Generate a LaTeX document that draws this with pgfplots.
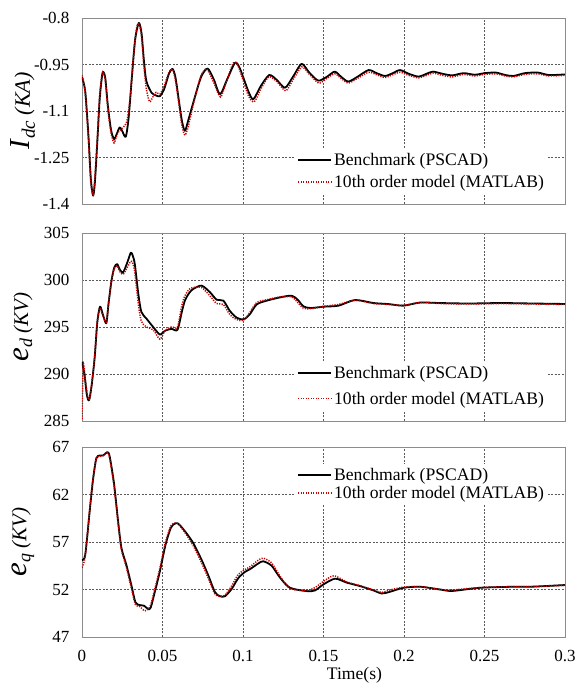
\documentclass[border=0pt]{standalone}
\usepackage{fontspec}
\setmainfont{Liberation Serif}
\usepackage{pgfplots}
\pgfplotsset{compat=1.18}
\definecolor{mred}{RGB}{200,0,0}
\pgfplotsset{
  panel/.style={
    scale only axis, width=483pt,
    xmin=0, xmax=0.3,
    xtick={0,0.05,0.1,0.15,0.2,0.25,0.3},
    grid=major,
    major grid style={dash pattern=on 2pt off 1.5pt, black!65, line width=0.6pt},
    axis line style={black!45, line width=0.9pt},
    major tick length=0pt,
    /pgf/number format/assume math mode=true,
    ticklabel style={font=\fontsize{17}{17}\selectfont},
    yticklabel style={xshift=-9pt},
    xticklabel style={yshift=-10pt},
    scaled ticks=false,
    legend cell align=left,
    legend style={draw=none, fill=white, font=\fontsize{17.6}{18}\selectfont, inner sep=2pt},
    legend image code/.code={\draw[##1] (0pt,0pt) -- (33pt,0pt);},
    every axis y label/.style={at={(axis description cs:-0.122,0.5)}, rotate=90, anchor=center},
  },
  bench/.style={black, line width=1.8pt, line join=round, smooth, tension=0.45},
  model/.style={mred, line width=1.5pt, dash pattern=on 1.2pt off 1.3pt, smooth, tension=0.45},
}
\begin{document}
\begin{tikzpicture}
\useasboundingbox (-82pt,0pt) rectangle (497pt,688pt);
% ---------------- Panel 1 ----------------
\begin{axis}[panel, at={(0pt,484pt)}, anchor=south west, height=186pt,
  ymin=-1.4, ymax=-0.8, ytick={-1.4,-1.25,-1.1,-0.95,-0.8},
  yticklabels={-1.4,-1.25,-1.1,-0.95,-0.8}, xticklabels={},
  ylabel={{\fontsize{29}{29}\selectfont\textit{I}}\raisebox{-5pt}{\fontsize{19}{19}\selectfont\textit{dc}}\hspace{6pt}{\fontsize{22}{22}\selectfont\textit{(KA)}}},
  legend style={at={(0.965,0.06)}, anchor=south east, row sep=4pt}]
\addplot[bench] coordinates {
(0,-0.991) (0.002,-1.036) (0.004,-1.18) (0.0055,-1.32) (0.0069,-1.373) (0.008,-1.33)
(0.0095,-1.2) (0.011,-1.06) (0.0125,-0.985) (0.0133,-0.974) (0.0145,-0.995) (0.016,-1.08)
(0.018,-1.16) (0.0199,-1.191) (0.0215,-1.175) (0.0234,-1.153) (0.025,-1.165) (0.0272,-1.183)
(0.029,-1.12) (0.031,-0.99) (0.033,-0.87) (0.0353,-0.816) (0.037,-0.85) (0.0385,-0.94)
(0.040,-1.004) (0.0432,-1.041) (0.046,-1.05) (0.0484,-1.052) (0.051,-1.03) (0.054,-0.98)
(0.0562,-0.964) (0.058,-0.99) (0.060,-1.06) (0.062,-1.13) (0.0639,-1.164) (0.066,-1.13)
(0.070,-1.057) (0.074,-0.99) (0.078,-0.963) (0.082,-1.0) (0.0857,-1.046) (0.090,-1.0)
(0.095,-0.945) (0.098,-0.962) (0.1033,-1.036) (0.1064,-1.062) (0.111,-1.02) (0.1163,-0.984)
(0.121,-1.0) (0.1261,-1.025) (0.131,-0.99) (0.1364,-0.948) (0.141,-0.975) (0.1467,-1.002)
(0.152,-0.99) (0.157,-0.973) (0.161,-0.99) (0.1654,-1.005) (0.171,-0.99) (0.178,-0.968)
(0.183,-0.978) (0.1882,-0.987) (0.193,-0.978) (0.1975,-0.968) (0.203,-0.98) (0.209,-0.989)
(0.214,-0.98) (0.218,-0.973) (0.224,-0.98) (0.23,-0.985) (0.237,-0.978) (0.244,-0.983)
(0.25,-0.978) (0.257,-0.976) (0.263,-0.984) (0.268,-0.987) (0.275,-0.978) (0.283,-0.976)
(0.29,-0.984) (0.3,-0.982)};
\addlegendentry{Benchmark (PSCAD)}
\addplot[model] coordinates {
(0,-0.985) (0.002,-1.04) (0.004,-1.19) (0.0055,-1.33) (0.0069,-1.37) (0.008,-1.32)
(0.0095,-1.19) (0.011,-1.05) (0.0125,-0.98) (0.0133,-0.976) (0.0145,-1.0) (0.016,-1.09)
(0.018,-1.17) (0.0199,-1.203) (0.0215,-1.18) (0.023,-1.165) (0.026,-1.15) (0.028,-1.13)
(0.030,-1.05) (0.032,-0.92) (0.034,-0.83) (0.0355,-0.82) (0.037,-0.86) (0.0385,-0.96)
(0.040,-1.03) (0.042,-1.07) (0.044,-1.055) (0.046,-1.04) (0.0484,-1.045) (0.051,-1.02)
(0.054,-0.975) (0.0562,-0.965) (0.058,-1.0) (0.060,-1.07) (0.062,-1.145) (0.0639,-1.178)
(0.066,-1.15) (0.070,-1.06) (0.074,-0.985) (0.0775,-0.965) (0.082,-1.01) (0.086,-1.055)
(0.090,-1.0) (0.094,-0.945) (0.097,-0.955) (0.1033,-1.05) (0.107,-1.07) (0.111,-1.03)
(0.116,-0.99) (0.121,-1.005) (0.1265,-1.035) (0.131,-1.0) (0.1365,-0.958) (0.141,-0.98)
(0.147,-1.01) (0.152,-0.995) (0.157,-0.98) (0.161,-0.995) (0.1654,-1.01) (0.171,-0.995)
(0.178,-0.975) (0.183,-0.983) (0.1882,-0.992) (0.193,-0.983) (0.1975,-0.975) (0.203,-0.985)
(0.209,-0.993) (0.214,-0.985) (0.218,-0.978) (0.224,-0.985) (0.23,-0.99) (0.237,-0.982)
(0.244,-0.987) (0.25,-0.982) (0.257,-0.98) (0.263,-0.987) (0.268,-0.99) (0.275,-0.982)
(0.283,-0.98) (0.29,-0.987) (0.3,-0.985)};
\addlegendentry{10th order model (MATLAB)}
\end{axis}
% ---------------- Panel 2 ----------------
\begin{axis}[panel, at={(0pt,267pt)}, anchor=south west, height=188pt,
  ymin=285, ymax=305, ytick={285,290,295,300,305}, xticklabels={},
  ylabel={{\fontsize{31}{31}\selectfont\textit{e}}\raisebox{-4pt}{\fontsize{18}{18}\selectfont\textit{d}}\hspace{5pt}{\fontsize{21}{21}\selectfont\textit{(KV)}}},
  legend style={at={(0.965,0.06)}, anchor=south east, row sep=8pt}]
\addplot[bench] coordinates {
(0,291.3) (0.0015,290.0) (0.003,287.8) (0.0044,287.2) (0.006,288.8) (0.0079,291.8)
(0.0095,295.5) (0.0112,297.17) (0.013,296.3) (0.0151,295.4) (0.0165,297.5) (0.0183,299.9)
(0.02,301.3) (0.0218,301.7) (0.0235,301.1) (0.0255,300.8) (0.028,301.8) (0.0303,302.9)
(0.0315,302.6) (0.0328,301.7) (0.035,298.5) (0.0369,296.6) (0.04,295.9) (0.0442,295.0)
(0.0484,294.2) (0.0515,294.6) (0.0556,294.8) (0.0593,294.7) (0.062,296.6) (0.0639,297.8)
(0.0665,298.6) (0.0691,299.05) (0.0743,299.4) (0.0795,298.7) (0.0836,297.9) (0.0878,297.8)
(0.0919,296.7) (0.096,296.0) (0.1002,295.8) (0.104,296.3) (0.1085,297.4) (0.1147,297.8)
(0.123,298.15) (0.1302,298.33) (0.134,297.9) (0.1375,297.2) (0.142,297.02) (0.15,297.16)
(0.1593,297.27) (0.1696,297.87) (0.181,297.55) (0.1903,297.44) (0.1996,297.27) (0.21,297.6)
(0.2224,297.55) (0.24,297.5) (0.26,297.55) (0.28,297.5) (0.3,297.45)};
\addlegendentry{Benchmark (PSCAD)}
\addplot[model] coordinates {
(0,285.2) (0.0008,291.0) (0.002,289.5) (0.0035,287.6) (0.0045,287.3) (0.006,288.9)
(0.0079,292.0) (0.0095,295.6) (0.0112,297.0) (0.013,296.2) (0.0151,295.5) (0.0165,297.6)
(0.0183,299.9) (0.02,301.2) (0.0218,301.5) (0.0235,300.9) (0.0255,300.6) (0.028,301.3)
(0.0303,302.0) (0.0315,301.8) (0.0328,300.8) (0.035,297.4) (0.0369,295.6) (0.04,295.0)
(0.0442,294.7) (0.0484,293.7) (0.0515,294.6) (0.0556,295.0) (0.0593,295.0) (0.062,297.3)
(0.0639,298.3) (0.0665,299.0) (0.0691,299.2) (0.0743,299.2) (0.0795,298.3) (0.0836,297.5)
(0.0878,297.4) (0.0919,296.3) (0.096,295.8) (0.1002,295.7) (0.104,296.5) (0.1085,297.6)
(0.1147,297.9) (0.123,298.2) (0.1302,298.2) (0.134,297.6) (0.1375,297.0) (0.142,296.95)
(0.15,297.2) (0.1593,297.4) (0.1696,297.85) (0.181,297.5) (0.1903,297.4) (0.1996,297.3)
(0.21,297.6) (0.2224,297.5) (0.24,297.45) (0.26,297.5) (0.28,297.45) (0.3,297.4)};
\addlegendentry{10th order model (MATLAB)}
\end{axis}
% ---------------- Panel 3 ----------------
\begin{axis}[panel, at={(0pt,51pt)}, anchor=south west, height=190pt,
  ymin=47, ymax=67, ytick={47,52,57,62,67},
  xticklabels={0,0.05,0.1,0.15,0.2,0.25,0.3},
  xlabel={Time(s)}, xlabel style={font=\fontsize{17.6}{18}\selectfont, xshift=31pt, yshift=2pt},
  ylabel={{\fontsize{31}{31}\selectfont\textit{e}}\raisebox{-4pt}{\fontsize{18}{18}\selectfont\textit{q}}\hspace{5pt}{\fontsize{21}{21}\selectfont\textit{(KV)}}},
  legend style={at={(0.965,0.91)}, anchor=north east, row sep=0pt}]
\addplot[bench] coordinates {
(0,55.1) (0.002,55.64) (0.0048,60.29) (0.0068,63.5) (0.0089,65.82) (0.011,66.1)
(0.0131,66.1) (0.0158,66.46) (0.0172,66.0) (0.0199,63.14) (0.0224,59.21) (0.0245,56.36)
(0.0276,54.57) (0.0307,52.43) (0.0332,50.65) (0.0359,50.36) (0.0386,50.29) (0.0411,49.93)
(0.0427,50.11) (0.0452,51.72) (0.0483,53.86) (0.0519,56.72) (0.0552,58.5) (0.0577,58.93)
(0.0598,58.93) (0.0639,58.14) (0.0691,56.89) (0.0743,55.11) (0.0784,53.5) (0.0826,51.72)
(0.0857,51.29) (0.0888,51.29) (0.093,52.07) (0.0971,53.21) (0.1013,53.86) (0.1044,54.15)
(0.1096,54.75) (0.1126,54.97) (0.1178,54.5) (0.123,53.25) (0.1292,52.18) (0.1396,51.83)
(0.1447,51.9) (0.15,52.54) (0.1572,53.14) (0.1645,52.72) (0.1727,52.36) (0.1811,51.9)
(0.1862,51.58) (0.1913,51.76) (0.1997,52.18) (0.21,52.29) (0.2224,52.0) (0.23,51.85)
(0.2472,52.18) (0.268,52.29) (0.28,52.3) (0.3,52.47)};
\addlegendentry{Benchmark (PSCAD)}
\addplot[model] coordinates {
(0,54.3) (0.002,55.5) (0.0048,60.4) (0.0068,63.6) (0.0089,65.8) (0.011,66.0)
(0.0131,66.1) (0.0158,66.4) (0.0172,65.8) (0.0199,62.9) (0.0224,59.0) (0.0245,56.2)
(0.0276,54.3) (0.0307,52.1) (0.0332,50.4) (0.0359,50.2) (0.039,49.75) (0.0411,49.95)
(0.0427,50.4) (0.045,51.9) (0.0483,54.2) (0.0519,57.0) (0.0552,58.7) (0.0577,59.0)
(0.0598,58.9) (0.0639,58.0) (0.0691,56.6) (0.0743,54.8) (0.0784,53.2) (0.0826,51.5)
(0.0857,51.3) (0.0888,51.4) (0.093,52.4) (0.0971,53.6) (0.1013,54.1) (0.1044,54.4)
(0.1096,55.1) (0.1126,55.3) (0.1178,54.8) (0.123,53.4) (0.1292,52.1) (0.1396,51.9)
(0.1447,52.2) (0.15,52.85) (0.1565,53.45) (0.1645,52.8) (0.1727,52.4) (0.1811,51.95)
(0.1862,51.7) (0.1913,51.95) (0.1997,52.25) (0.21,52.3) (0.2224,52.0) (0.23,51.95)
(0.2472,52.2) (0.268,52.3) (0.28,52.3) (0.3,52.45)};
\addlegendentry{10th order model (MATLAB)}
\end{axis}
\end{tikzpicture}
\end{document}
